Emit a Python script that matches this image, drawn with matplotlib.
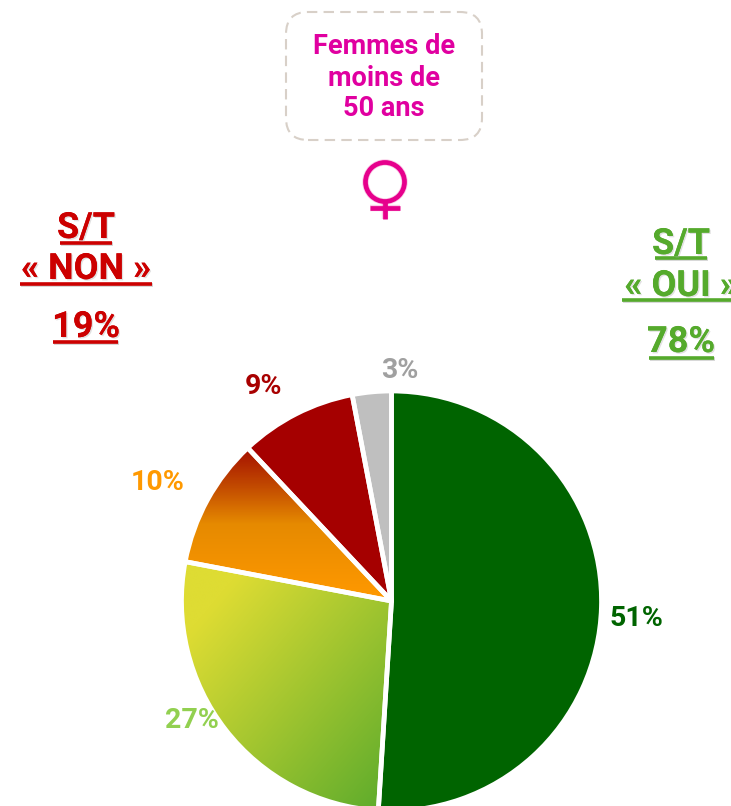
import numpy as np
import matplotlib
matplotlib.use("Agg")
import matplotlib.pyplot as plt
import matplotlib.patheffects as pe
from matplotlib.colors import LinearSegmentedColormap
from matplotlib.patches import FancyBboxPatch, Circle

# share of answers, clockwise from the top
categories = ["oui tout a fait", "oui plutot", "non plutot pas", "non pas du tout", "nsp"]
values = [51, 27, 10, 9, 3]
value_labels = ["51%", "27%", "10%", "9%", "3%"]
label_colors = ["#006400", "#92d050", "#ff9900", "#a80000", "#a0a0a0"]
slice_colors = ["#006400", "#a8c832", "#e68a00", "#a50000", "#bfbfbf"]

title_lines = ["Femmes de", "moins de", "50 ans"]
non_lines = ["S/T", "« NON »", "19%"]
oui_lines = ["S/T", "« OUI »", "78%"]

W, H = 731, 806
PINK = "#e000a0"
RED = "#cc0000"
GREEN = "#55aa2c"
FONT = "Roboto"


def py(y):
    # picture y (from the top) to axes y
    return H - y


fig = plt.figure(figsize=(W / 100, H / 100), dpi=100)
ax = fig.add_axes([0, 0, 1, 1])

cx, cy, r = 391.5, py(601), 210

# pie faces, gradients go on top of them, white edges last
wedges, _ = ax.pie(values, colors=slice_colors, startangle=90, counterclock=False,
                   center=(cx, cy), radius=r, wedgeprops={"linewidth": 0})

# yellow to green, running diagonally
green_cmap = LinearSegmentedColormap.from_list(
    "g", [(0, "#dedc33"), (0.16, "#dedc33"), (1, "#5cab2c")])
gx, gy = np.meshgrid(np.linspace(0, 1, 300), np.linspace(0, 1, 300))
im = ax.imshow((gx + gy) / 2, cmap=green_cmap, extent=(183, 391, py(806), py(560)),
               origin="upper", aspect="auto", zorder=2, vmin=0.0, vmax=1)
im.set_clip_path(wedges[1])

# dark red to orange, top to bottom
orange_cmap = LinearSegmentedColormap.from_list(
    "o", [(0, "#a51000"), (0.25, "#c24a00"), (0.5, "#e68a00"), (1, "#ff9900")])
grad = np.linspace(0, 1, 200).reshape(-1, 1)
im2 = ax.imshow(grad, cmap=orange_cmap, extent=(183, 391, py(600), py(448)),
                origin="upper", aspect="auto", zorder=2)
im2.set_clip_path(wedges[2])

edges, _ = ax.pie(values, colors=["none"] * 5, startangle=90, counterclock=False,
                  center=(cx, cy), radius=r,
                  wedgeprops={"linewidth": 3.4, "edgecolor": "white", "zorder": 3,
                              "joinstyle": "round"})

ax.set_xlim(0, W)
ax.set_ylim(0, H)
ax.set_aspect("auto")
ax.axis("off")

# slice labels
label_pos = [(636, 619), (192, 721), (158, 483), (264, 386), (400, 371)]
for txt, col, (x, y) in zip(value_labels, label_colors, label_pos):
    ax.text(x, py(y), txt, color=col, fontsize=20.5, fontweight="bold", family=FONT,
            ha="center", va="center", zorder=5)

# title box
box = FancyBboxPatch((286 + 22, py(140) + 22), 196 - 44, 128 - 44,
                     boxstyle="round,pad=22,rounding_size=22", fc="white", ec="#d8d0c8",
                     lw=1.5, ls=(0, (5, 3)))
ax.add_patch(box)
for txt, y in zip(title_lines, [46, 78, 109]):
    ax.text(384, py(y), txt, color=PINK, fontsize=19.5, fontweight="bold", family=FONT,
            ha="center", va="center")

# female sign
SIGN = "#e6008c"
glow = [pe.withStroke(linewidth=4.6, foreground=SIGN, alpha=0.2)]
ax.add_patch(Circle((385, py(182)), 19.5, fc="none", ec=SIGN, lw=3.4, path_effects=glow))
ax.plot([385, 385], [py(202), py(219)], color=SIGN, lw=3.4, solid_capstyle="butt", path_effects=glow)
ax.plot([370, 400], [py(208), py(208)], color=SIGN, lw=3.4, solid_capstyle="butt", path_effects=glow)

# S/T blocks with underlined text
shadow = [pe.withSimplePatchShadow(offset=(1, -1), shadow_rgbFace="#aaaaaa", alpha=0.35),
          pe.Normal()]


def st_block(lines, color, xc, ys, rules):
    for txt, y, (x0, x1, yr) in zip(lines, ys, rules):
        ax.text(xc, py(y), txt, color=color, fontsize=26, fontweight="bold", family=FONT,
                ha="center", va="center", path_effects=shadow, clip_on=True)
        ax.plot([x0, x1], [py(yr), py(yr)], color=color, lw=2.6, solid_capstyle="butt",
                path_effects=[pe.SimpleLineShadow(offset=(1, -1), alpha=0.4, shadow_color="#888888"),
                              pe.Normal()])


st_block(non_lines, RED, 86, [228, 269, 327], [(60, 112, 243), (20, 152, 284), (53, 118, 342)])
st_block(oui_lines, GREEN, 681, [244, 286, 342], [(655, 707, 258), (622, 731, 300), (649, 714, 358)])

fig.savefig("out.png", dpi=100)
